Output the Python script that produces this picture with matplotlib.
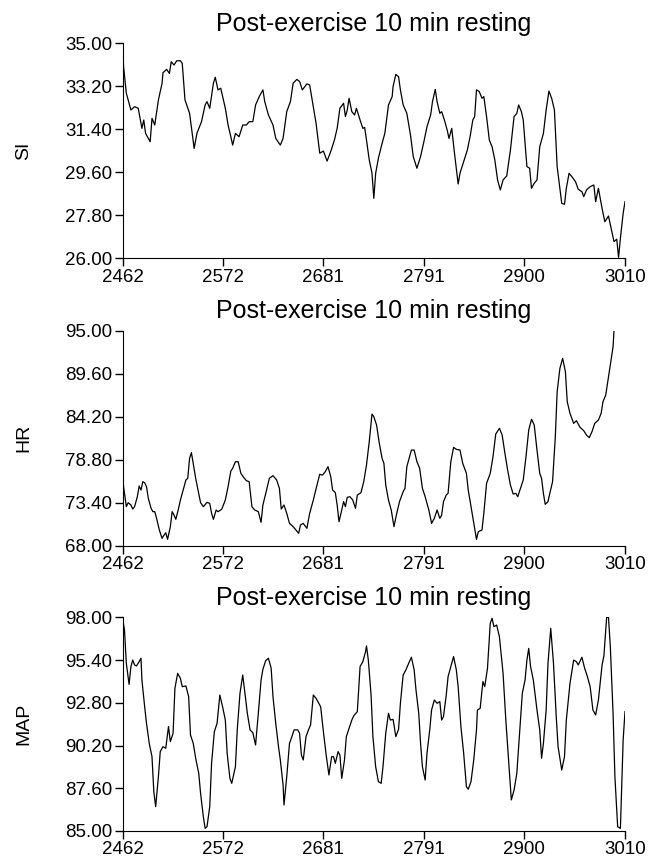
import matplotlib
matplotlib.use("Agg")
import matplotlib.pyplot as plt

plt.rcParams['font.family'] = ['Liberation Sans', 'DejaVu Sans']

title = "Post-exercise 10 min resting"
x_ticks = [2462, 2572, 2681, 2791, 2900, 3010]

# SI
si_t = [2462, 2463, 2466, 2471, 2475, 2479, 2483, 2485, 2487, 2492, 2494, 2497, 2501, 2505, 2506, 2510,
        2513, 2515, 2518, 2521, 2525, 2527, 2530, 2535, 2540, 2543, 2548, 2552, 2554, 2557, 2561, 2563,
        2566, 2569, 2574, 2577, 2580, 2582, 2585, 2589, 2593, 2597, 2600, 2604, 2607, 2611, 2615, 2617,
        2621, 2626, 2629, 2634, 2637, 2641, 2645, 2648, 2652, 2655, 2658, 2663, 2666, 2669, 2673, 2677,
        2681, 2685, 2689, 2693, 2696, 2699, 2703, 2705, 2707, 2709, 2712, 2715, 2717, 2721, 2724, 2726,
        2728, 2731, 2734, 2736, 2738, 2741, 2745, 2748, 2752, 2756, 2757, 2760, 2763, 2765, 2768, 2772,
        2776, 2779, 2783, 2787, 2791, 2794, 2798, 2800, 2803, 2805, 2808, 2810, 2813, 2816, 2818, 2821,
        2824, 2828, 2830, 2834, 2838, 2841, 2844, 2846, 2848, 2851, 2854, 2856, 2859, 2862, 2865, 2868,
        2871, 2874, 2877, 2881, 2885, 2889, 2892, 2894, 2897, 2899, 2903, 2906, 2908, 2911, 2914, 2917,
        2921, 2924, 2927, 2930, 2933, 2936, 2941, 2944, 2946, 2949, 2952, 2956, 2959, 2963, 2965, 2968,
        2972, 2976, 2978, 2981, 2985, 2988, 2992, 2996, 2998, 3001, 3003, 3005, 3008, 3010]
si_v = [34.93, 34.02, 32.91, 32.21, 32.35, 32.28, 31.44, 31.79, 31.23, 30.88, 31.86, 31.58, 32.63, 33.33, 33.77, 33.91,
        33.74, 34.23, 34.09, 34.27, 34.27, 34.16, 32.63, 32.07, 30.60, 31.23, 31.72, 32.42, 32.56, 32.28, 33.33, 33.58,
        33.05, 33.12, 32.28, 31.58, 31.09, 30.74, 31.23, 31.09, 31.58, 31.58, 31.72, 31.72, 32.42, 32.77, 33.05, 32.56,
        32.00, 31.58, 31.02, 30.74, 31.02, 32.14, 32.56, 33.33, 33.49, 33.40, 33.05, 33.30, 33.26, 32.56, 31.65, 30.40,
        30.49, 30.07, 30.47, 30.95, 31.44, 32.28, 32.49, 31.93, 32.21, 32.70, 32.14, 32.00, 32.28, 31.79, 31.44, 31.48,
        30.95, 30.12, 29.56, 28.51, 29.56, 30.19, 30.81, 31.23, 32.42, 32.77, 33.19, 33.70, 33.60, 33.05, 32.42, 32.07,
        31.16, 30.26, 29.77, 30.26, 30.95, 31.51, 32.00, 32.56, 33.07, 32.56, 32.07, 32.14, 31.79, 31.37, 31.02, 31.44,
        30.40, 29.11, 29.56, 30.05, 30.53, 31.09, 31.79, 31.93, 33.05, 32.98, 32.70, 32.77, 31.93, 30.95, 30.67, 30.12,
        29.28, 28.86, 29.28, 29.45, 30.53, 31.93, 32.07, 32.42, 32.14, 31.79, 29.84, 29.77, 28.93, 29.14, 29.28, 30.67,
        31.23, 32.21, 33.00, 32.70, 32.21, 29.84, 28.30, 28.26, 28.93, 29.56, 29.42, 29.21, 28.89, 28.79, 28.58, 28.86,
        29.00, 29.07, 28.37, 28.93, 28.09, 27.53, 27.77, 27.05, 26.70, 26.80, 26.04, 26.84, 27.88, 28.37]

# HR
hr_t = [2462, 2463, 2466, 2468, 2471, 2473, 2475, 2478, 2480, 2482, 2484, 2486, 2488, 2490, 2493, 2495,
        2497, 2499, 2502, 2505, 2506, 2509, 2511, 2514, 2516, 2518, 2520, 2523, 2525, 2528, 2531, 2533,
        2535, 2537, 2539, 2542, 2545, 2547, 2550, 2554, 2557, 2559, 2561, 2564, 2566, 2570, 2574, 2577,
        2580, 2582, 2585, 2588, 2591, 2594, 2597, 2600, 2603, 2606, 2610, 2613, 2615, 2619, 2622, 2626,
        2630, 2633, 2635, 2638, 2641, 2644, 2648, 2651, 2654, 2656, 2659, 2663, 2666, 2670, 2674, 2677,
        2680, 2683, 2686, 2689, 2691, 2694, 2696, 2698, 2701, 2703, 2705, 2707, 2710, 2713, 2716, 2718,
        2722, 2725, 2728, 2731, 2734, 2736, 2739, 2742, 2745, 2747, 2749, 2752, 2755, 2758, 2761, 2764,
        2768, 2770, 2772, 2775, 2777, 2780, 2783, 2786, 2789, 2792, 2796, 2799, 2802, 2805, 2808, 2810,
        2812, 2815, 2817, 2820, 2823, 2826, 2830, 2833, 2837, 2839, 2842, 2845, 2848, 2850, 2854, 2856,
        2859, 2863, 2866, 2869, 2873, 2876, 2879, 2882, 2885, 2888, 2891, 2893, 2896, 2899, 2902, 2905,
        2908, 2911, 2914, 2917, 2919, 2921, 2923, 2926, 2928, 2931, 2934, 2936, 2939, 2942, 2945, 2947,
        2950, 2954, 2957, 2961, 2965, 2968, 2971, 2974, 2977, 2981, 2984, 2986, 2989, 2992, 2995, 2997,
        2998]
hr_v = [77.50, 75.41, 72.90, 73.40, 73.11, 72.60, 72.90, 74.15, 75.49, 74.99, 76.04, 75.91, 75.41, 73.94, 72.69, 72.27,
        72.27, 71.43, 69.97, 68.92, 69.13, 69.63, 68.80, 70.39, 72.27, 71.85, 71.31, 72.69, 73.73, 74.99, 76.25, 76.46,
        78.97, 79.68, 78.34, 76.25, 74.57, 73.40, 72.90, 73.44, 73.32, 72.06, 71.31, 72.48, 72.27, 72.56, 73.73, 75.41,
        77.38, 77.71, 78.55, 78.55, 77.08, 76.58, 76.16, 76.04, 72.90, 72.48, 72.27, 70.93, 73.11, 74.99, 76.46, 76.79,
        76.25, 75.20, 72.60, 73.11, 72.06, 70.80, 70.39, 69.97, 69.55, 70.60, 70.80, 70.18, 72.06, 73.73, 75.62, 76.96,
        76.87, 77.29, 77.92, 76.67, 74.99, 74.66, 73.11, 71.01, 72.48, 73.53, 72.90, 74.07, 74.15, 73.73, 72.69, 74.36,
        74.66, 76.04, 78.13, 81.06, 84.53, 84.20, 83.15, 80.85, 78.97, 78.34, 75.62, 73.73, 72.48, 70.39, 72.06, 73.53,
        74.78, 75.20, 77.92, 79.18, 80.01, 80.01, 78.55, 77.71, 75.20, 74.15, 72.48, 70.80, 71.43, 72.48, 71.43, 71.85,
        73.53, 74.36, 74.57, 78.55, 80.35, 80.10, 80.01, 78.34, 77.08, 74.99, 72.90, 70.80, 68.80, 69.76, 69.97, 72.06,
        75.83, 77.08, 79.18, 82.02, 82.74, 81.90, 79.60, 77.50, 75.62, 74.49, 74.57, 74.15, 75.20, 76.25, 79.18, 82.53,
        83.87, 83.15, 80.01, 77.08, 76.46, 74.57, 73.19, 73.53, 74.57, 76.04, 81.69, 87.34, 90.27, 91.53, 89.85, 86.08,
        84.62, 83.36, 83.70, 82.86, 82.44, 81.90, 81.56, 82.32, 83.36, 83.78, 84.62, 86.08, 86.92, 89.22, 91.53, 92.99,
        95.00]

# MAP
map_t = [2462, 2464, 2466, 2469, 2471, 2473, 2475, 2477, 2480, 2482, 2483, 2486, 2488, 2491, 2494, 2496,
         2498, 2501, 2503, 2506, 2509, 2512, 2514, 2517, 2519, 2522, 2525, 2527, 2531, 2534, 2536, 2539,
         2542, 2545, 2547, 2550, 2552, 2554, 2557, 2559, 2562, 2565, 2568, 2571, 2574, 2576, 2579, 2581,
         2585, 2587, 2590, 2593, 2595, 2598, 2601, 2604, 2607, 2610, 2613, 2615, 2618, 2621, 2624, 2626,
         2629, 2632, 2634, 2637, 2638, 2641, 2644, 2646, 2649, 2653, 2655, 2657, 2659, 2662, 2665, 2667,
         2670, 2673, 2675, 2678, 2681, 2684, 2687, 2690, 2692, 2694, 2697, 2699, 2701, 2704, 2706, 2709,
         2712, 2714, 2718, 2721, 2724, 2727, 2728, 2730, 2733, 2735, 2738, 2741, 2744, 2746, 2749, 2752,
         2754, 2757, 2760, 2763, 2765, 2768, 2771, 2774, 2777, 2780, 2782, 2785, 2787, 2789, 2792, 2794,
         2797, 2799, 2802, 2805, 2808, 2810, 2812, 2815, 2817, 2820, 2823, 2826, 2828, 2831, 2834, 2837,
         2839, 2842, 2845, 2848, 2849, 2852, 2855, 2857, 2860, 2863, 2865, 2867, 2870, 2873, 2877, 2880,
         2884, 2886, 2889, 2892, 2895, 2898, 2901, 2903, 2905, 2907, 2910, 2914, 2917, 2919, 2921, 2924,
         2926, 2929, 2932, 2935, 2937, 2941, 2944, 2946, 2950, 2954, 2957, 2959, 2963, 2966, 2969, 2972,
         2975, 2978, 2981, 2985, 2987, 2990, 2992, 2994, 2997, 2999, 3002, 3005, 3008, 3010]
map_v = [97.90, 97.23, 95.20, 93.92, 95.00, 95.40, 95.10, 95.04, 95.30, 95.51, 94.19, 92.56, 91.55, 90.33, 89.52, 87.39,
         86.48, 88.31, 89.83, 90.13, 90.03, 91.35, 90.44, 90.94, 93.68, 94.59, 94.29, 93.78, 93.82, 93.17, 90.84, 90.33,
         89.32, 88.51, 87.29, 85.87, 85.16, 85.26, 86.48, 89.12, 91.04, 91.55, 93.27, 92.56, 91.75, 89.73, 88.20, 87.90,
         88.91, 91.15, 93.38, 94.49, 93.58, 92.16, 91.15, 90.98, 90.23, 92.16, 94.19, 94.84, 95.36, 95.51, 94.90, 93.17,
         91.55, 90.13, 89.32, 87.80, 86.58, 88.31, 90.33, 90.64, 91.15, 91.15, 90.94, 89.62, 89.32, 90.74, 91.19, 91.45,
         93.27, 93.07, 92.87, 92.56, 91.04, 89.62, 88.41, 89.52, 89.52, 89.12, 89.83, 89.62, 88.20, 89.32, 90.74, 91.25,
         91.75, 92.00, 92.26, 95.00, 95.30, 95.91, 96.26, 95.40, 93.27, 90.74, 88.91, 88.00, 87.90, 88.91, 90.94, 92.16,
         91.75, 91.79, 90.74, 91.19, 92.77, 94.49, 94.80, 95.20, 95.57, 94.80, 93.58, 92.16, 90.33, 88.91, 88.10, 89.73,
         91.15, 92.36, 92.97, 92.77, 92.87, 91.75, 91.96, 93.27, 94.39, 95.00, 95.61, 94.80, 93.78, 91.35, 89.73, 87.70,
         87.54, 88.00, 89.32, 91.15, 92.36, 92.46, 94.09, 93.78, 94.90, 97.63, 97.94, 97.43, 97.53, 96.82, 94.59, 91.75,
         88.51, 86.89, 87.49, 88.51, 90.94, 93.38, 94.19, 95.40, 96.11, 95.00, 94.19, 92.36, 91.15, 89.42, 90.33, 92.36,
         95.20, 97.33, 95.20, 91.96, 90.13, 88.71, 89.52, 91.75, 93.98, 95.40, 95.30, 95.10, 95.57, 94.90, 94.39, 93.78,
         92.36, 92.06, 92.97, 95.10, 95.65, 98.00, 98.00, 96.22, 92.16, 88.31, 85.26, 85.16, 90.54, 92.26]

panels = [
    ("SI", si_t, si_v, [26.00, 27.80, 29.60, 31.40, 33.20, 35.00], 0.7007, 0.2491),
    ("HR", hr_t, hr_v, [68.00, 73.40, 78.80, 84.20, 89.60, 95.00], 0.3677, 0.2491),
    ("MAP", map_t, map_v, [85.00, 87.60, 90.20, 92.80, 95.40, 98.00], 0.0371, 0.2476),
]

fig = plt.figure(figsize=(6.49, 8.63), dpi=100)

for name, t, v, yt, bottom, height in panels:
    ax = fig.add_axes([0.189, bottom, 0.774, height])
    ax.plot(t, v, color='black', linewidth=0.9)
    ax.set_xlim(x_ticks[0], x_ticks[-1])
    ax.set_ylim(yt[0], yt[-1])
    ax.set_xticks(x_ticks)
    ax.set_yticks(yt)
    ax.set_yticklabels([f"{y:.2f}" for y in yt])
    ax.spines['top'].set_visible(False)
    ax.spines['right'].set_visible(False)
    ax.tick_params(direction='out', length=5.5, width=1, labelsize=13.5, pad=2)
    ax.set_ylabel(name, fontsize=14)
    ax.yaxis.set_label_coords(-0.18, 0.5)
    ax.set_title(title, fontsize=18, pad=9)

fig.savefig("out.png", dpi=100)
